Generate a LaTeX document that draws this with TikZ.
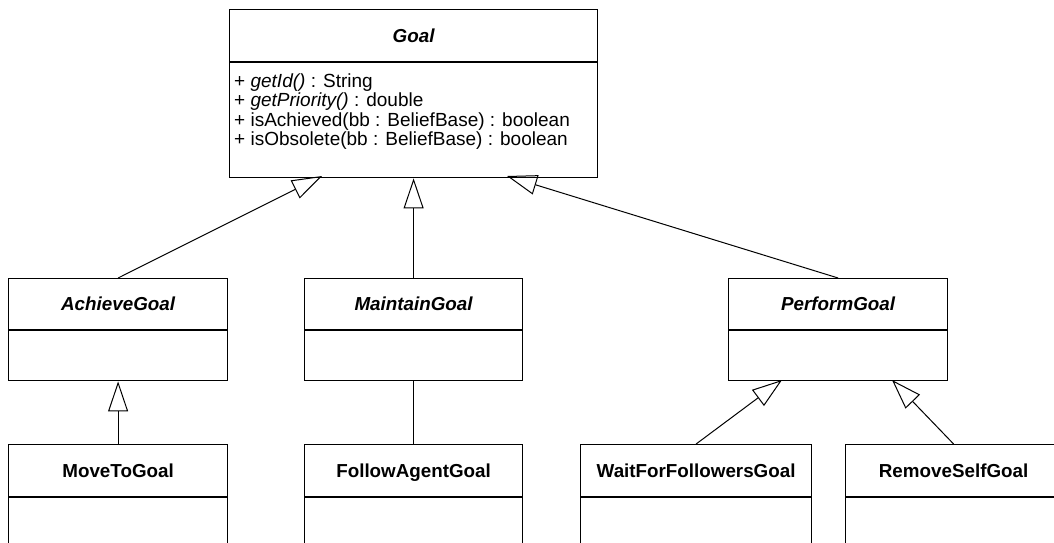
\documentclass[tikz,border=0pt]{standalone}
\usepackage{fontspec}
\setmainfont{Liberation Sans}
\usetikzlibrary{arrows.meta}

\tikzset{
  cls/.style={draw=black, line width=1.2pt, rectangle, inner sep=0pt, fill=white},
  clsname/.style={cls, text height=13.5pt, text depth=0pt,
                  font=\fontsize{18.8}{20}\selectfont\bfseries},
  absname/.style={cls, text height=13.5pt, text depth=0pt,
                  font=\fontsize{18.8}{20}\selectfont\bfseries\itshape},
  clsbody/.style={cls},
  attr/.style={anchor=base west, inner sep=0pt, font=\fontsize{19}{20}\selectfont},
  gen/.style={draw=black, line width=1pt, -{Triangle[open, length=30pt, width=20pt]}},
  assoc/.style={draw=black, line width=1pt},
}

\begin{document}
\begin{tikzpicture}[x=1pt, y=-1pt]
  \clip (0,0) rectangle (1054,542);
  \fill[white] (0,0) rectangle (1054,542);

  % Goal (abstract base class)
  \node[absname, minimum width=368pt, minimum height=52pt, anchor=north west]
    (goal) at (229,9) {Goal};
  \node[clsbody, minimum width=368pt, minimum height=115pt, anchor=north]
    (goalbody) at (goal.south) {};
  \node[attr] (op1) at (234,87)    {+ \textit{getId()} : String};
  \node[attr] (op2) at (234,106.5) {+ \textit{getPriority()} : double};
  \node[attr] (op3) at (234,126)   {+ isAchieved(bb : BeliefBase) : boolean};
  \node[attr] (op4) at (234,145.5) {+ isObsolete(bb : BeliefBase) : boolean};

  % second level: abstract goal kinds
  \node[absname, minimum width=219pt, minimum height=51pt, anchor=north west]
    (achieve) at (8,278) {AchieveGoal};
  \node[clsbody, minimum width=219pt, minimum height=50pt, anchor=north]
    (achievebody) at (achieve.south) {};

  \node[absname, minimum width=218pt, minimum height=51pt, anchor=north west]
    (maintain) at (304,278) {MaintainGoal};
  \node[clsbody, minimum width=218pt, minimum height=50pt, anchor=north]
    (maintainbody) at (maintain.south) {};

  \node[absname, minimum width=219pt, minimum height=51pt, anchor=north west]
    (perform) at (728,278) {PerformGoal};
  \node[clsbody, minimum width=219pt, minimum height=50pt, anchor=north]
    (performbody) at (perform.south) {};

  % third level: concrete goals
  \node[clsname, minimum width=219pt, minimum height=52pt, anchor=north west]
    (move) at (8,444) {MoveToGoal};
  \node[clsbody, minimum width=219pt, minimum height=100pt, anchor=north]
    (movebody) at (move.south) {};

  \node[clsname, minimum width=218pt, minimum height=52pt, anchor=north west]
    (follow) at (304,444) {FollowAgentGoal};
  \node[clsbody, minimum width=218pt, minimum height=100pt, anchor=north]
    (followbody) at (follow.south) {};

  \node[clsname, minimum width=231pt, minimum height=52pt, anchor=north west]
    (wait) at (580,444) {WaitForFollowersGoal};
  \node[clsbody, minimum width=231pt, minimum height=100pt, anchor=north]
    (waitbody) at (wait.south) {};

  \node[clsname, minimum width=216pt, minimum height=52pt, anchor=north west]
    (remove) at (845,444) {RemoveSelfGoal};
  \node[clsbody, minimum width=216pt, minimum height=100pt, anchor=north]
    (removebody) at (remove.south) {};

  % attachment points on the parents' lower edges
  \coordinate (goalA) at (322,176);
  \coordinate (goalP) at (507,176);
  \coordinate (perfW) at (782,380);
  \coordinate (perfR) at (892,380);

  % generalisations and links
  \draw[gen] (achieve.north) -- (goalA);
  \draw[gen] (maintain.north) -- (goalbody.south);
  \draw[gen] (perform.north) -- (goalP);
  \draw[gen] (move.north) -- (achievebody.south);
  \draw[assoc] (follow.north) -- (maintainbody.south);
  \draw[gen] (wait.north) -- (perfW);
  \draw[gen] (remove.north) -- (perfR);
\end{tikzpicture}
\end{document}
